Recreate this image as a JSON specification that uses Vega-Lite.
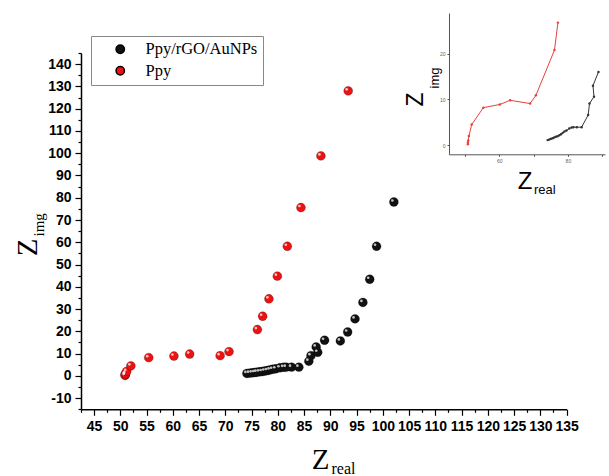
{
  "$schema": "https://vega.github.io/schema/vega-lite/v6.json",
  "width": 485.6,
  "height": 356.3,
  "autosize": {"type": "none"},
  "padding": {"left": 81, "top": 53, "right": 42, "bottom": 67},
  "background": "white",
  "config": {"view": {"stroke": null}, "axis": {"grid": false}},
  "datasets": {
    "main": [
      {"series": "Ppy/rGO/AuNPs", "i": 1, "x": 74.1, "y": 1.1},
      {"series": "Ppy/rGO/AuNPs", "i": 2, "x": 74.6, "y": 1.24},
      {"series": "Ppy/rGO/AuNPs", "i": 3, "x": 75.1, "y": 1.38},
      {"series": "Ppy/rGO/AuNPs", "i": 4, "x": 75.6, "y": 1.53},
      {"series": "Ppy/rGO/AuNPs", "i": 5, "x": 76.0, "y": 1.67},
      {"series": "Ppy/rGO/AuNPs", "i": 6, "x": 76.5, "y": 1.82},
      {"series": "Ppy/rGO/AuNPs", "i": 7, "x": 77.0, "y": 1.96},
      {"series": "Ppy/rGO/AuNPs", "i": 8, "x": 77.5, "y": 2.18},
      {"series": "Ppy/rGO/AuNPs", "i": 9, "x": 78.0, "y": 2.4},
      {"series": "Ppy/rGO/AuNPs", "i": 10, "x": 78.5, "y": 2.69},
      {"series": "Ppy/rGO/AuNPs", "i": 11, "x": 79.0, "y": 2.98},
      {"series": "Ppy/rGO/AuNPs", "i": 12, "x": 79.6, "y": 3.2},
      {"series": "Ppy/rGO/AuNPs", "i": 13, "x": 80.4, "y": 3.64},
      {"series": "Ppy/rGO/AuNPs", "i": 14, "x": 81.1, "y": 3.85},
      {"series": "Ppy/rGO/AuNPs", "i": 15, "x": 81.6, "y": 3.93},
      {"series": "Ppy/rGO/AuNPs", "i": 16, "x": 82.6, "y": 3.93},
      {"series": "Ppy/rGO/AuNPs", "i": 17, "x": 84.0, "y": 3.93},
      {"series": "Ppy/rGO/AuNPs", "i": 18, "x": 85.9, "y": 6.6},
      {"series": "Ppy/rGO/AuNPs", "i": 19, "x": 86.3, "y": 9.1},
      {"series": "Ppy/rGO/AuNPs", "i": 20, "x": 87.6, "y": 10.6},
      {"series": "Ppy/rGO/AuNPs", "i": 21, "x": 87.3, "y": 13.0},
      {"series": "Ppy/rGO/AuNPs", "i": 22, "x": 88.9, "y": 16.0},
      {"series": "Ppy/rGO/AuNPs", "i": 23, "x": 91.9, "y": 15.7},
      {"series": "Ppy/rGO/AuNPs", "i": 24, "x": 93.3, "y": 19.7},
      {"series": "Ppy/rGO/AuNPs", "i": 25, "x": 94.7, "y": 25.6},
      {"series": "Ppy/rGO/AuNPs", "i": 26, "x": 96.2, "y": 33.0},
      {"series": "Ppy/rGO/AuNPs", "i": 27, "x": 97.5, "y": 43.4},
      {"series": "Ppy/rGO/AuNPs", "i": 28, "x": 98.8, "y": 58.2},
      {"series": "Ppy/rGO/AuNPs", "i": 29, "x": 102.1, "y": 78.1},
      {"series": "Ppy", "i": 1, "x": 50.9, "y": 0.2},
      {"series": "Ppy", "i": 2, "x": 50.9, "y": 0.6},
      {"series": "Ppy", "i": 3, "x": 51.0, "y": 1.0},
      {"series": "Ppy", "i": 4, "x": 51.2, "y": 2.0},
      {"series": "Ppy", "i": 5, "x": 52.0, "y": 4.5},
      {"series": "Ppy", "i": 6, "x": 55.4, "y": 8.2},
      {"series": "Ppy", "i": 7, "x": 60.2, "y": 8.9},
      {"series": "Ppy", "i": 8, "x": 63.2, "y": 9.8},
      {"series": "Ppy", "i": 9, "x": 69.0, "y": 9.1},
      {"series": "Ppy", "i": 10, "x": 70.7, "y": 10.9},
      {"series": "Ppy", "i": 11, "x": 76.1, "y": 20.8},
      {"series": "Ppy", "i": 12, "x": 77.1, "y": 26.8},
      {"series": "Ppy", "i": 13, "x": 78.3, "y": 34.6},
      {"series": "Ppy", "i": 14, "x": 79.9, "y": 44.8},
      {"series": "Ppy", "i": 15, "x": 81.8, "y": 58.2},
      {"series": "Ppy", "i": 16, "x": 84.4, "y": 75.6},
      {"series": "Ppy", "i": 17, "x": 88.2, "y": 98.8},
      {"series": "Ppy", "i": 18, "x": 93.4, "y": 128.0}
    ]
  },
  "layer": [
    {
      "data": {"name": "main"},
      "layer": [
        {
          "mark": {"type": "circle", "size": 80, "opacity": 1, "stroke": "black", "strokeWidth": 0.6, "strokeOpacity": 0.4},
          "encoding": {
            "x": {
              "field": "x", "type": "quantitative",
              "scale": {"domain": [42.5, 135], "nice": false, "zero": false},
              "axis": {
                "orient": "bottom",
                "values": [45, 50, 55, 60, 65, 70, 75, 80, 85, 90, 95, 100, 105, 110, 115, 120, 125, 130, 135],
                "tickSize": 6, "tickWidth": 1.2, "tickColor": "black",
                "domainColor": "black", "domainWidth": 1.5,
                "labelFont": "Liberation Sans", "labelFontWeight": "bold", "labelFontSize": 14, "labelColor": "black",
                "labelPadding": 4, "labelFlush": false, "labelOverlap": false,
                "title": "Z", "titleFont": "Liberation Serif", "titleFontSize": 29, "titleFontWeight": "normal", "titleColor": "black",
                "titleAlign": "right", "titleBaseline": "alphabetic", "titleX": 248, "titleY": 59
              }
            },
            "y": {
              "field": "y", "type": "quantitative",
              "scale": {"domain": [-15, 145], "nice": false, "zero": false},
              "axis": {
                "orient": "left",
                "values": [-10, 0, 10, 20, 30, 40, 50, 60, 70, 80, 90, 100, 110, 120, 130, 140],
                "labelExpr": "'' + datum.value",
                "tickSize": 6, "tickWidth": 1.2, "tickColor": "black",
                "domainColor": "black", "domainWidth": 1.5,
                "labelFont": "Liberation Sans", "labelFontWeight": "bold", "labelFontSize": 14, "labelColor": "black",
                "labelPadding": 4, "labelFlush": false, "labelOverlap": false,
                "title": "Z", "titleFont": "Liberation Serif", "titleFontSize": 29, "titleFontWeight": "normal", "titleColor": "black",
                "titleAngle": 270, "titleAlign": "right", "titleBaseline": "alphabetic", "titleX": -44, "titleY": 185
              }
            },
            "color": {
              "field": "series", "type": "nominal",
              "scale": {"domain": ["Ppy/rGO/AuNPs", "Ppy"], "range": ["#111111", "#ee1111"]},
              "legend": {
                "orient": "none", "legendX": 10, "legendY": -17, "title": null,
                "strokeColor": "#888888", "fillColor": "white", "padding": 5,
                "symbolOffset": 16, "labelOffset": 17, "symbolSize": 70, "symbolType": "circle",
                "labelFont": "Liberation Serif", "labelFontSize": 16.5, "labelColor": "black", "rowPadding": 4.5
              }
            }
          }
        },
        {
          "mark": {"type": "circle", "size": 7, "color": "white", "opacity": 0.75, "xOffset": -1.5, "yOffset": -1.5},
          "encoding": {
            "x": {
              "field": "x", "type": "quantitative",
              "axis": {
                "orient": "bottom",
                "values": [42.5, 47.5, 52.5, 57.5, 62.5, 67.5, 72.5, 77.5, 82.5, 87.5, 92.5, 97.5, 102.5, 107.5, 112.5, 117.5, 122.5, 127.5, 132.5],
                "tickSize": 3, "tickWidth": 1.2, "tickColor": "black", "labels": false, "domain": false,
                "title": "real", "titleFont": "Liberation Serif", "titleFontSize": 16, "titleFontWeight": "normal", "titleColor": "black",
                "titleAlign": "left", "titleBaseline": "alphabetic", "titleX": 250, "titleY": 64
              }
            },
            "y": {
              "field": "y", "type": "quantitative",
              "axis": {
                "orient": "left",
                "values": [-15, -5, 5, 15, 25, 35, 45, 55, 65, 75, 85, 95, 105, 115, 125, 135, 145],
                "tickSize": 3, "tickWidth": 1.2, "tickColor": "black", "labels": false, "domain": false,
                "title": "img", "titleFont": "Liberation Serif", "titleFontSize": 15, "titleFontWeight": "normal", "titleColor": "black",
                "titleAngle": 270, "titleAlign": "left", "titleBaseline": "alphabetic", "titleX": -37, "titleY": 183
              }
            }
          }
        }
      ],
      "resolve": {"axis": {"x": "independent", "y": "independent"}}
    },
    {
      "data": {"name": "main"},
      "transform": [{"filter": "datum.y < 28 && datum.x < 90"}],
      "layer": [
        {
          "mark": {"type": "line", "strokeWidth": 1},
          "encoding": {
            "x": {
              "field": "x", "type": "quantitative",
              "scale": {"domain": [45.4, 90.8], "range": [368, 524], "nice": false, "zero": false},
              "axis": {
                "orient": "bottom", "offset": -255,
                "values": [50, 60, 70, 80, 90],
                "labelExpr": "datum.value % 20 == 0 ? '' + datum.value : ''",
                "labelFontSize": 5, "labelColor": "#666666", "labelPadding": 2,
                "tickSize": 2, "tickColor": "#555555", "domainColor": "#555555", "domainWidth": 1,
                "title": "Z", "titleFont": "Liberation Sans", "titleFontSize": 24, "titleFontWeight": "normal", "titleColor": "black",
                "titleAlign": "right", "titleBaseline": "alphabetic", "titleX": 451, "titleY": 34
              }
            },
            "y": {
              "field": "y", "type": "quantitative",
              "scale": {"domain": [-2, 28.9], "range": [101.3, -40], "nice": false, "zero": false},
              "axis": {
                "orient": "left", "offset": -368,
                "values": [0, 10, 20],
                "labelFontSize": 5, "labelColor": "#666666", "labelPadding": 2,
                "tickSize": 2, "tickColor": "#555555", "domainColor": "#555555", "domainWidth": 1,
                "title": "Z", "titleFont": "Liberation Sans", "titleFontSize": 23, "titleFontWeight": "normal", "titleColor": "black",
                "titleAngle": 270, "titleAlign": "right", "titleBaseline": "alphabetic", "titleX": -26, "titleY": 39
              }
            },
            "color": {
              "field": "series", "type": "nominal",
              "scale": {"domain": ["Ppy/rGO/AuNPs", "Ppy"], "range": ["#333333", "#e8403a"]},
              "legend": null
            },
            "order": {"field": "i"}
          }
        },
        {
          "mark": {"type": "circle", "size": 6, "opacity": 1},
          "encoding": {
            "x": {
              "field": "x", "type": "quantitative",
              "axis": {
                "orient": "bottom", "offset": -255, "labels": false, "ticks": false, "domain": false,
                "title": "real", "titleFont": "Liberation Sans", "titleFontSize": 13, "titleFontWeight": "normal", "titleColor": "black",
                "titleAlign": "left", "titleBaseline": "alphabetic", "titleX": 452.5, "titleY": 39
              }
            },
            "y": {
              "field": "y", "type": "quantitative",
              "axis": {
                "orient": "left", "offset": -368, "labels": false, "ticks": false, "domain": false,
                "title": "img", "titleFont": "Liberation Sans", "titleFontSize": 13, "titleFontWeight": "normal", "titleColor": "black",
                "titleAngle": 270, "titleAlign": "left", "titleBaseline": "alphabetic", "titleX": -10, "titleY": 35
              }
            },
            "color": {
              "field": "series", "type": "nominal",
              "scale": {"domain": ["Ppy/rGO/AuNPs", "Ppy"], "range": ["#333333", "#e8403a"]},
              "legend": null
            }
          }
        }
      ],
      "resolve": {"axis": {"x": "independent", "y": "independent"}}
    }
  ],
  "resolve": {"scale": {"x": "independent", "y": "independent", "color": "independent"}}
}
